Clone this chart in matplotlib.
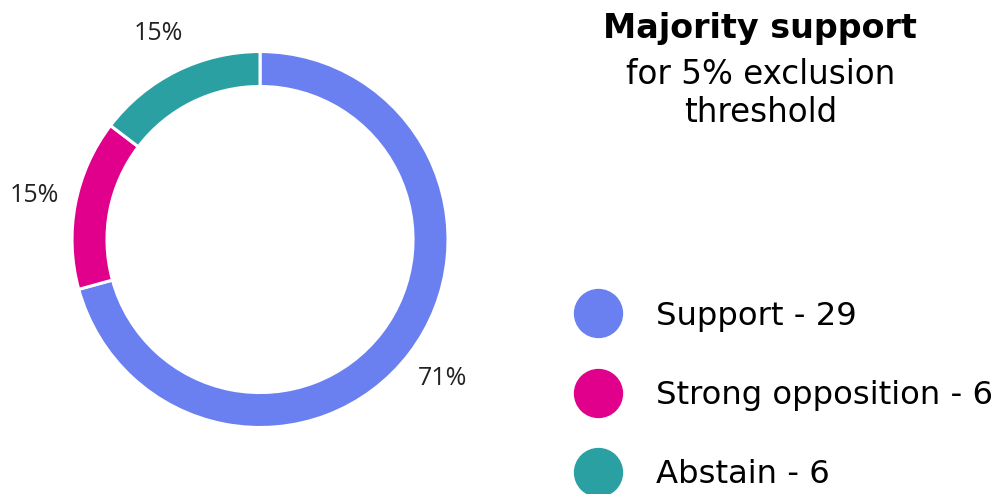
import matplotlib.pyplot as plt
from matplotlib.lines import Line2D

# vote counts
categories = ["Support", "Strong opposition", "Abstain"]
votes = [29, 6, 6]
colors = ["#6A80F0", "#E0008C", "#2BA0A3"]

title_bold = "Majority support"
title_rest = "for 5% exclusion\nthreshold"

fig = plt.figure(figsize=(10.07, 4.94), dpi=100)

# donut, centred at ~ (260, 239) px with radius ~188 px
ax = fig.add_axes([0.0715, 0.1346, 0.3734, 0.7611])
wedges, texts, autotexts = ax.pie(
    votes, colors=colors, startangle=90, counterclock=False, radius=1.0,
    autopct=lambda p: "%d%%" % round(p), pctdistance=1.22,
    wedgeprops=dict(width=0.186, edgecolor="white", linewidth=2.2),
)
for t in autotexts:
    t.set_fontsize(18)
    t.set_family("Open Sans")
    t.set_color("#222222")
ax.set_xlim(-1, 1)
ax.set_ylim(-1, 1)
ax.set_aspect("equal")
ax.axis("off")

# title block
fig.text(0.755, 0.943, title_bold, ha="center", va="center",
         fontsize=24, fontweight="bold", family="DejaVu Sans")
fig.text(0.755, 0.81, title_rest, ha="center", va="center",
         fontsize=23.5, family="DejaVu Sans", linespacing=1.2)

# legend with round markers
handles = [Line2D([], [], linestyle="none", marker="o", markersize=34.5,
                  markerfacecolor=c, markeredgecolor=c) for c in colors]
labels = ["%s - %d" % (c, v) for c, v in zip(categories, votes)]
fig.legend(handles, labels, loc="upper left", bbox_to_anchor=(0.5585, 0.424),
           frameon=False, fontsize=23.2, labelspacing=1.5, handletextpad=1.22,
           borderpad=0, handlelength=1.2)

plt.savefig("out.png", dpi=100)
